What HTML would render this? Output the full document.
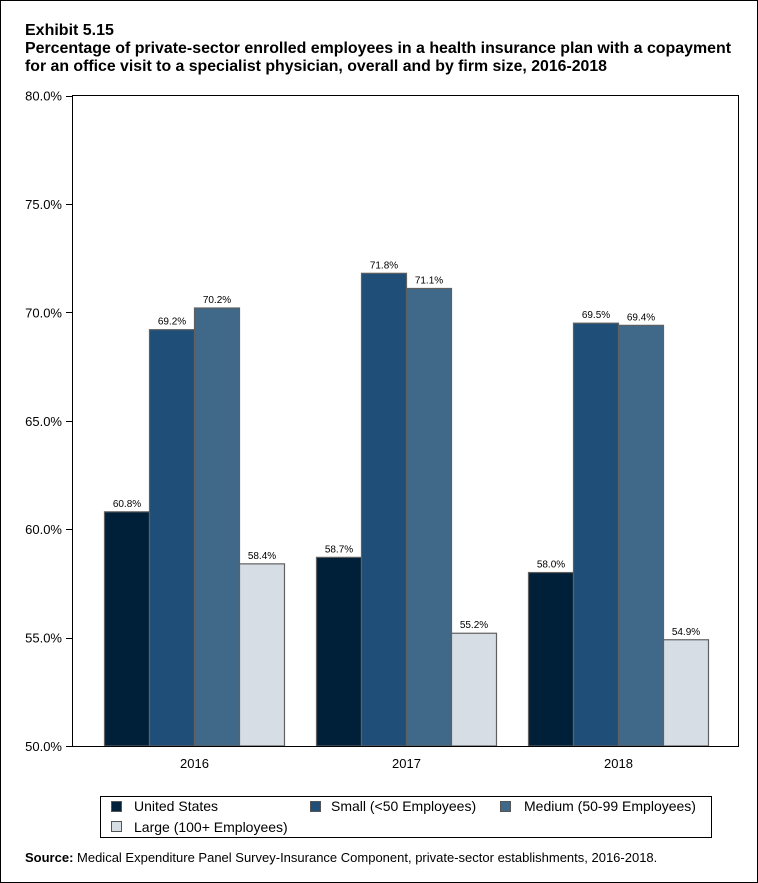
<!DOCTYPE html>
<html><head><meta charset="utf-8"><style>
body{margin:0;background:#fff}
svg{display:block;font-family:"Liberation Sans",Arial,sans-serif}
</style></head><body>
<svg id="chart" width="758" height="883" viewBox="0 0 758 883">
<rect x="0.5" y="0.5" width="757" height="882" fill="#fff" stroke="#000"/>
<g font-weight="bold" font-size="16" fill="#000">
<text x="25" y="35">Exhibit 5.15</text>
<text x="25" y="53" textLength="706" lengthAdjust="spacingAndGlyphs">Percentage of private-sector enrolled employees in a health insurance plan with a copayment</text>
<text x="25" y="71" textLength="582" lengthAdjust="spacingAndGlyphs">for an office visit to a specialist physician, overall and by firm size, 2016-2018</text>
</g>
<g id="yaxis"></g>
<g id="bars"></g>
<rect x="72.5" y="95.5" width="666" height="651" fill="none" stroke="#000"/>
<g id="xaxis"></g>
<g font-size="14" fill="#000">
<rect x="100.5" y="796.5" width="611" height="41" fill="#fff" stroke="#000"/>
<g><rect x="111.5" y="801.5" width="10" height="10" fill="#00203a" stroke="#555"/><text x="134" y="811">United States</text></g>
<g><rect x="310.5" y="801.5" width="10" height="10" fill="#1f4e78" stroke="#555"/><text x="331" y="811">Small (&lt;50 Employees)</text></g>
<g><rect x="500.5" y="801.5" width="10" height="10" fill="#3f6889" stroke="#555"/><text x="524" y="811">Medium (50-99 Employees)</text></g>
<g><rect x="111.5" y="821.5" width="10" height="10" fill="#d6dde4" stroke="#555"/><text x="134" y="832">Large (100+ Employees)</text></g>
</g>
<text x="25" y="862" font-size="13"><tspan font-weight="bold">Source:</tspan> Medical Expenditure Panel Survey-Insurance Component, private-sector establishments, 2016-2018.</text>
</svg>
<script>
const categories = ["2016","2017","2018"];
const seriesNames = ["United States","Small (<50 Employees)","Medium (50-99 Employees)","Large (100+ Employees)"];
const usValues = [60.8, 58.7, 58.0];
const smallValues = [69.2, 71.8, 69.5];
const mediumValues = [70.2, 71.1, 69.4];
const largeValues = [58.4, 55.2, 54.9];
const yTicks = [50, 55, 60, 65, 70, 75, 80];
const yTickLabels = ["50.0%","55.0%","60.0%","65.0%","70.0%","75.0%","80.0%"];

const NS = "http://www.w3.org/2000/svg";
const Y0 = 746, Y1 = 95.5, VMIN = 50, VMAX = 80;
function y(v){ return Y0 - (v - VMIN) / (VMAX - VMIN) * (Y0 - Y1); }
function xCenter(i){ return 194.5 + i * 212; }
const BW = 45;
function mk(tag, attrs, parent){ const e=document.createElementNS(NS,tag); for(const k in attrs) e.setAttribute(k,attrs[k]); parent.appendChild(e); return e; }

const yaxis = document.getElementById('yaxis');
yTicks.forEach((t,i)=>{
  const ln = mk('line',{x1:66,x2:72,y1:Math.round(y(t))+0.5,y2:Math.round(y(t))+0.5,stroke:'#000'},yaxis);
  
  
  const tx = mk('text',{x:62,y:y(t)+5,'text-anchor':'end','font-size':13},yaxis);
  tx.textContent = yTickLabels[i];
  
  
});

const series = [usValues, smallValues, mediumValues, largeValues];
const colors = ["#00203a","#1f4e78","#3f6889","#d6dde4"];
const keys = ["us","small","medium","large"];
const bars = document.getElementById('bars');
categories.forEach((c,ci)=>{
  series.forEach((s,si)=>{
    const x0 = xCenter(ci) - 2*BW + si*BW;
    const top = y(s[ci]);
    const r = mk('rect',{x:x0,y:top,width:BW,height:Y0-top,fill:colors[si],stroke:'#606060','stroke-width':1.2},bars);
    
    
    const t = mk('text',{x:x0+BW/2,y:top-5,'text-anchor':'middle','font-size':10,fill:'#000'},bars);
    t.textContent = s[ci].toFixed(1)+'%';
    
    
  });
});

const xaxis = document.getElementById('xaxis');
categories.forEach((c,ci)=>{
  const t = mk('text',{x:xCenter(ci),y:768,'text-anchor':'middle','font-size':13},xaxis);
  t.textContent = c;
  
  
});
</script>
</body></html>
